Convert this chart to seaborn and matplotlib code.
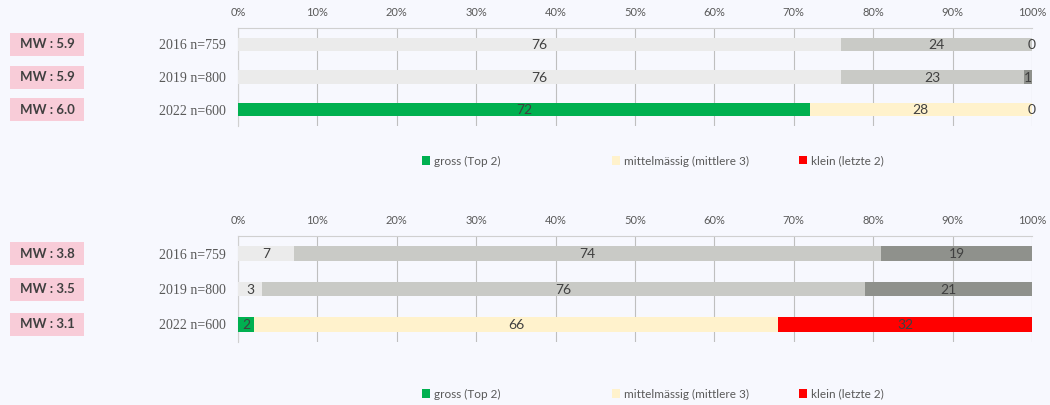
import matplotlib
matplotlib.use('Agg')
import matplotlib.pyplot as plt
import matplotlib.patches as mpatches
import numpy as np
import pandas as pd
import seaborn as sns

# chart data
years = ['2016 n=759', '2019 n=800', '2022 n=600']
top_gross = [76, 76, 72]
top_mittel = [24, 23, 28]
top_klein = [0, 1, 0]
top_mw = ['MW : 5.9', 'MW : 5.9', 'MW : 6.0']

bot_gross = [7, 3, 2]
bot_mittel = [74, 76, 66]
bot_klein = [19, 21, 32]
bot_mw = ['MW : 3.8', 'MW : 3.5', 'MW : 3.1']

legend_labels = ['gross (Top 2)', 'mittelmässig (mittlere 3)', 'klein (letzte 2)']

# colours per row: two grey years, then the current year in colour
seg_colors = [
    ['#EBEBEB', '#EBEBEB', '#00B050'],
    ['#C9CAC6', '#C9CAC6', '#FFF2CC'],
    ['#8F918C', '#8F918C', '#FF0000'],
]
legend_colors = ['#00B050', '#FFF2CC', '#FF0000']
BG = '#F7F8FE'

sns.set_style('white')
plt.rcParams['font.family'] = ['Lato', 'DejaVu Sans']

fig = plt.figure(figsize=(10.5, 4.05), dpi=100)
fig.patch.set_facecolor(BG)


def plot_stacked(ax, gross, mittel, klein, bar_h):
    """stacked horizontal bars, drawn back to front with cumulative sums"""
    df = pd.DataFrame({'year': years, 'g': gross, 'm': mittel, 'k': klein})
    df['c1'] = df['g']
    df['c2'] = df['g'] + df['m']
    df['c3'] = df['g'] + df['m'] + df['k']
    for col, cols in zip(['c3', 'c2', 'c1'], [seg_colors[2], seg_colors[1], seg_colors[0]]):
        sns.barplot(data=df, x=col, y='year', hue='year', palette=cols,
                    legend=False, width=bar_h, ax=ax, saturation=1,
                    linewidth=0, dodge=False, zorder=3)
    # value labels in the middle of each segment
    for i, row in df.iterrows():
        starts = [0, row['c1'], row['c2']]
        for s, v in zip(starts, [row['g'], row['m'], row['k']]):
            ax.text(s + v / 2, i + 0.02, f'{v:.0f}', ha='center', va='center',
                    fontsize=10, color='#404040', zorder=5)
    ax.set_facecolor(BG)
    ax.set_xlim(0, 100)
    ax.set_ylim(2.5, -0.5)
    ax.set_xticks(np.arange(0, 101, 10))
    ax.set_xticklabels([f'{t}%' for t in range(0, 101, 10)])
    ax.xaxis.tick_top()
    ax.tick_params(axis='x', length=0, labelsize=8, colors='#595959', pad=7)
    ax.grid(axis='x', color='#BFBFBF', linewidth=0.8, zorder=0)
    ax.grid(axis='y', visible=False)
    ax.set_axisbelow(True)
    ax.set_xlabel('')
    ax.set_ylabel('')
    ax.tick_params(axis='y', length=0, pad=9)
    ax.set_yticks([-0.5, 0.5, 1.5, 2.5], minor=True)
    ax.tick_params(axis='y', which='minor', length=4, color='#BFBFBF')
    for lab in ax.get_yticklabels():
        lab.set_fontfamily(['Liberation Serif', 'DejaVu Serif'])
        lab.set_fontsize(10)
        lab.set_color('#595959')
    for side in ['right', 'bottom']:
        ax.spines[side].set_visible(False)
    for side in ['left', 'top']:
        ax.spines[side].set_color('#D0D0D0')
        ax.spines[side].set_linewidth(0.8)


def mw_boxes(ax, labels):
    """pink boxes with the mean value to the left of each bar"""
    for i, lab in enumerate(labels):
        y_disp = ax.transData.transform((0, i))[1]
        y_fig = fig.transFigure.inverted().transform((0, y_disp))[1]
        h = 23 / 405
        fig.patches.append(mpatches.Rectangle((10 / 1050, y_fig - h / 2), 74 / 1050, h,
                                              transform=fig.transFigure,
                                              facecolor='#F8CCD8', edgecolor='none'))
        fig.text(47 / 1050, y_fig, lab, ha='center', va='center', fontsize=9.5,
                 fontweight='bold', color='#404040')


def legend_row(y):
    # one small legend per entry so each sits at its own x position
    for x, c, lab in zip([422, 612, 799], legend_colors, legend_labels):
        fig.legend([mpatches.Patch(facecolor=c, edgecolor='none')], [lab],
                   loc='center left', bbox_to_anchor=(x / 1050, y),
                   frameon=False, fontsize=8.5, handlelength=0.7, handleheight=0.7,
                   handletextpad=0.3, borderaxespad=0, borderpad=0,
                   labelcolor='#595959')


ax1 = fig.add_axes([238 / 1050, 1 - 126 / 405, 794 / 1050, 98 / 405])
plot_stacked(ax1, top_gross, top_mittel, top_klein, 0.4)
ax2 = fig.add_axes([238 / 1050, 1 - 342 / 405, 794 / 1050, 106 / 405])
plot_stacked(ax2, bot_gross, bot_mittel, bot_klein, 0.42)

mw_boxes(ax1, top_mw)
mw_boxes(ax2, bot_mw)
legend_row(1 - 161 / 405)
legend_row(1 - 394 / 405)

fig.savefig('out.png', dpi=100, facecolor=BG)
